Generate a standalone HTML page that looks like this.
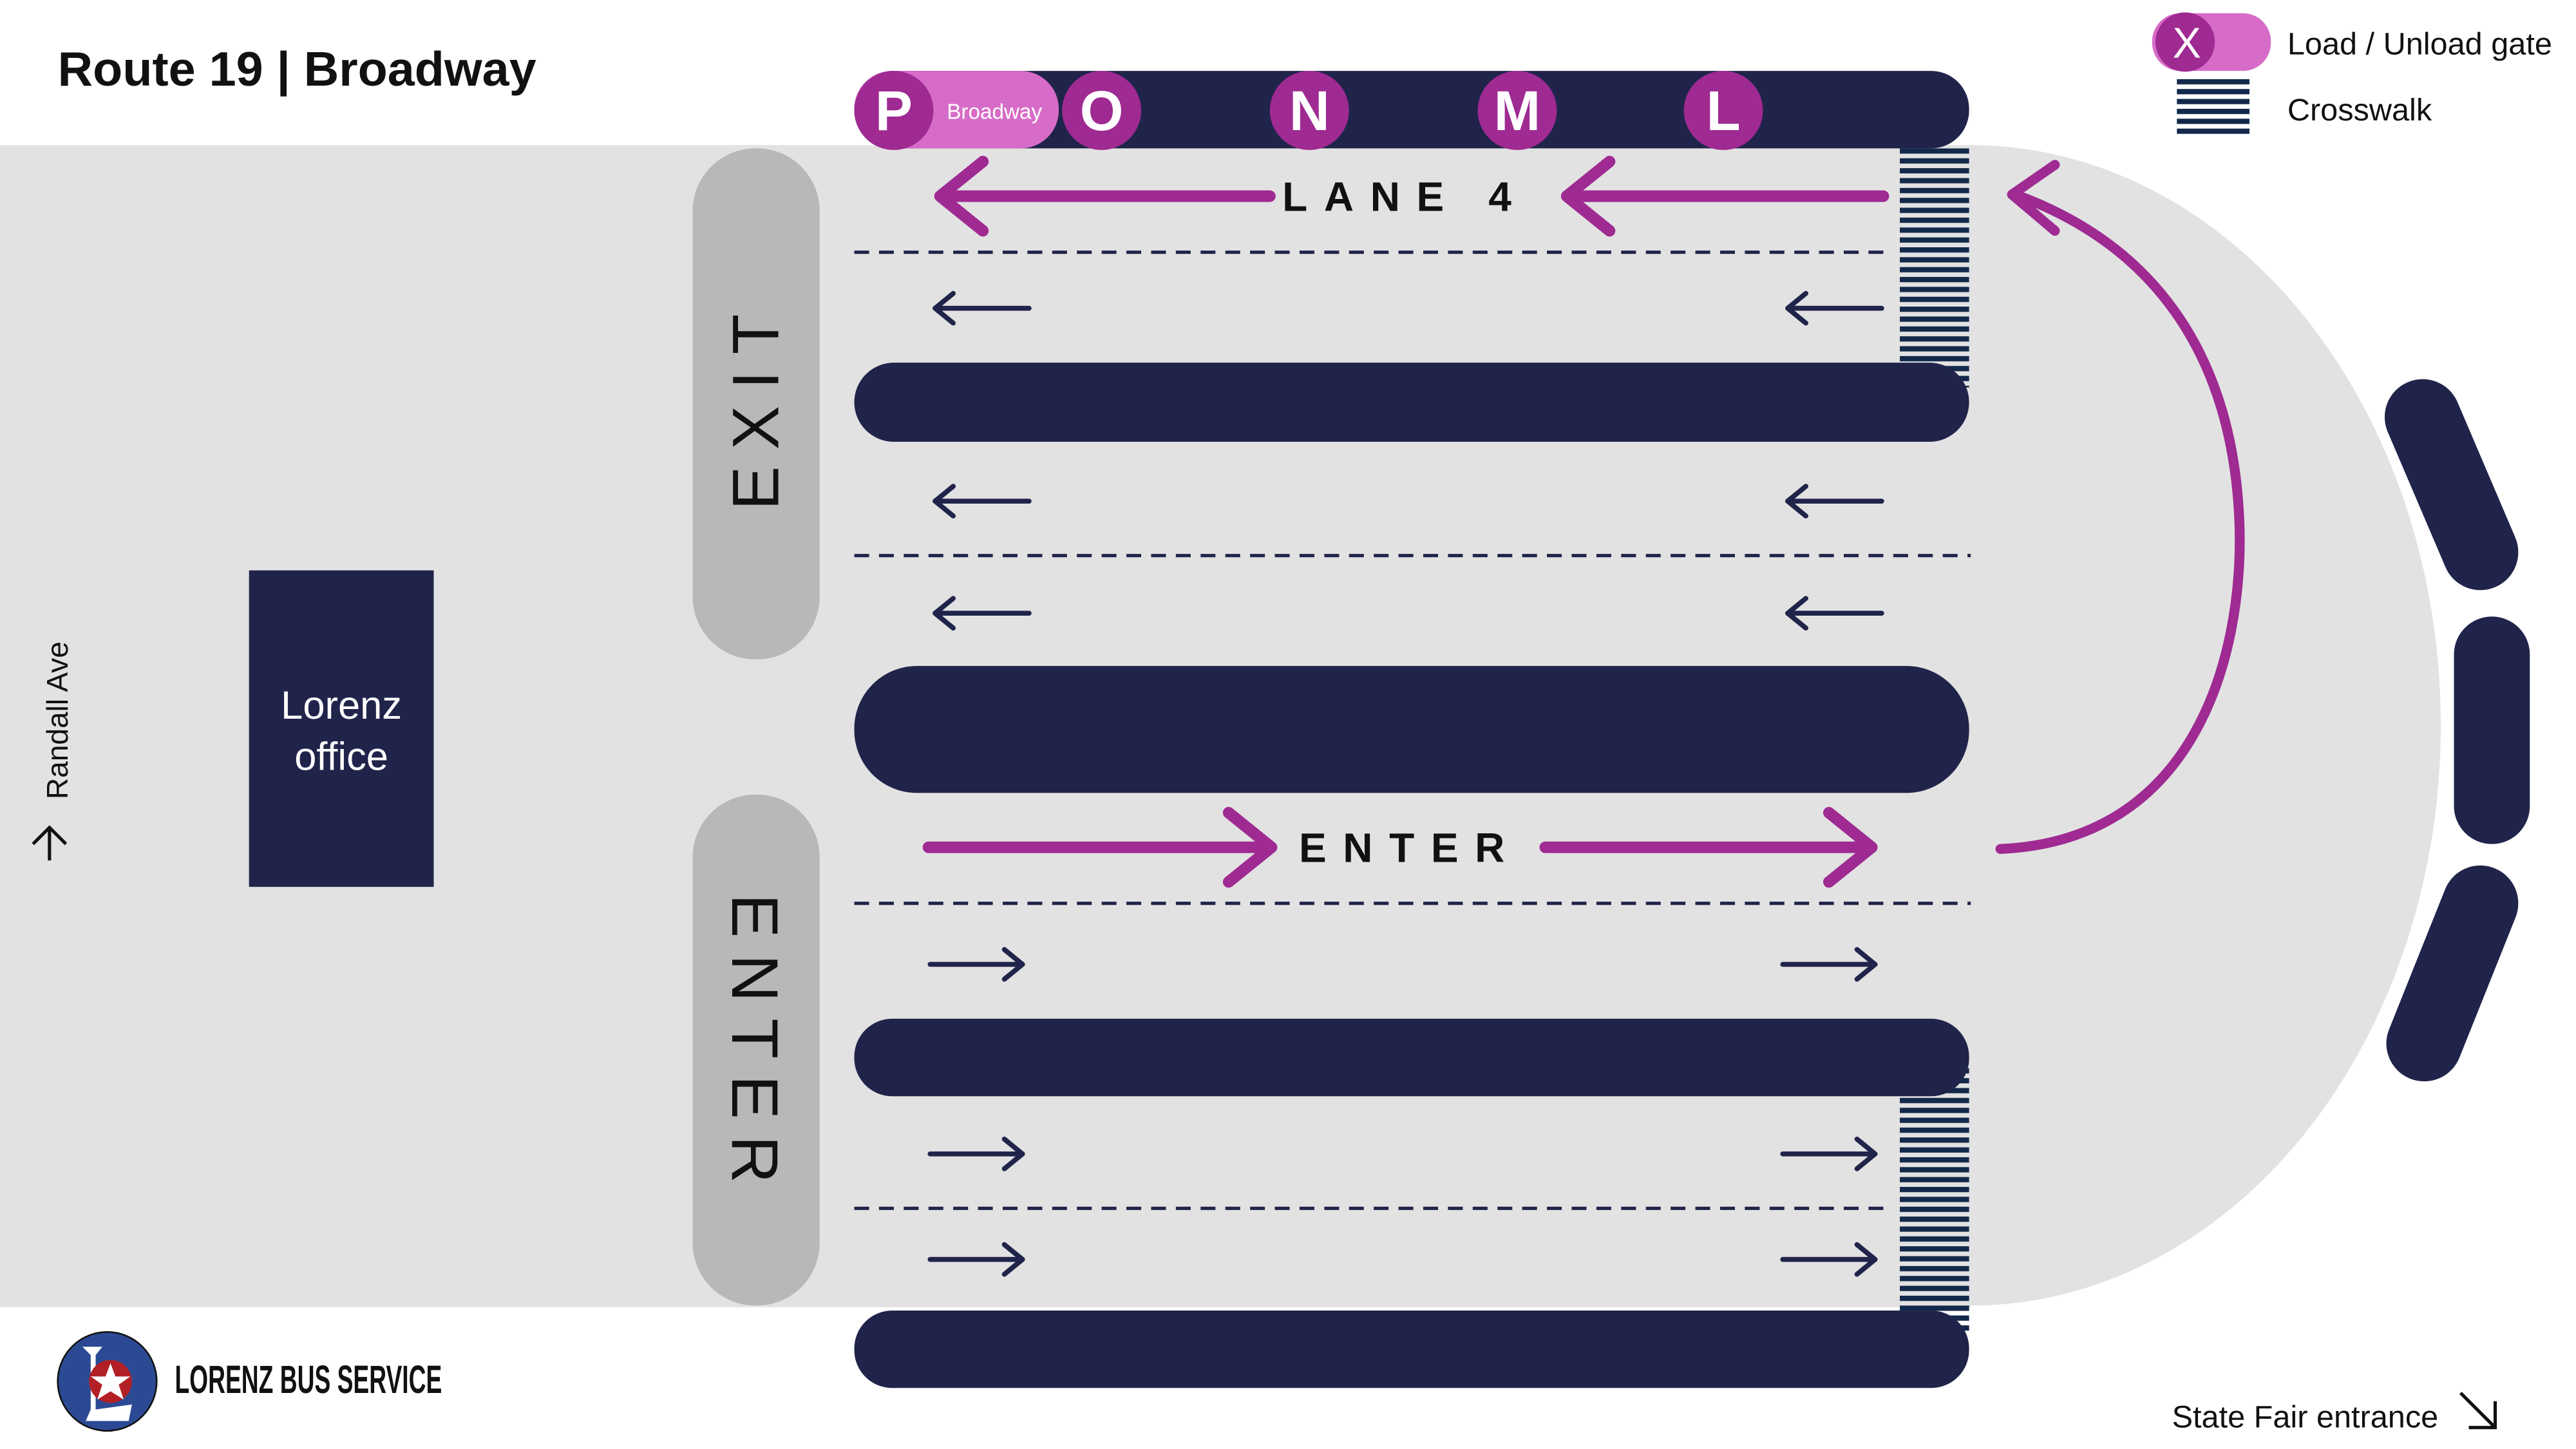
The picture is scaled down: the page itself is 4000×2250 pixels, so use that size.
<!DOCTYPE html>
<html><head><meta charset="utf-8"><style>
html,body{margin:0;padding:0;background:#fff;}
svg{display:block;}
text{font-family:"Liberation Sans",sans-serif;}
</style></head><body>
<svg width="4000" height="2250" viewBox="0 0 1562 879" preserveAspectRatio="none" xmlns="http://www.w3.org/2000/svg">
<defs>
<pattern id="cw" width="10" height="6" patternUnits="userSpaceOnUse"><rect width="10" height="3.2" fill="#13294b"/></pattern>
<g id="la"><line x1="567" y1="0" x2="624" y2="0"/><polyline points="578,-9 567,0 578,9"/></g>
<g id="ra"><line x1="564" y1="0" x2="620" y2="0"/><polyline points="609,-9 620,0 609,9"/></g>
</defs>
<rect width="1562" height="879" fill="#fff"/>
<!-- ground -->
<ellipse cx="1195" cy="440" rx="285" ry="352" fill="#e2e2e2"/>
<rect x="0" y="88" width="1195" height="705" fill="#e2e2e2"/>
<text x="35" y="52" font-size="29.5" font-weight="bold" fill="#111">Route 19 | Broadway</text>

<!-- crosswalks -->
<rect x="1152" y="90" width="42" height="145" fill="url(#cw)"/>
<rect x="1152" y="645" width="42" height="165" fill="url(#cw)"/>

<!-- bars -->
<g fill="#20244a">
<rect x="518" y="43" width="676" height="47" rx="23"/>
<rect x="518" y="220" width="676" height="48" rx="24"/>
<rect x="518" y="404" width="676" height="77" rx="38"/>
<rect x="518" y="618" width="676" height="47" rx="23"/>
<rect x="518" y="795" width="676" height="47" rx="23"/>
</g>
<!-- gates -->
<rect x="518" y="43" width="124" height="47" rx="23" fill="#d76cc8"/>
<g fill="#9e2a92">
<circle cx="542" cy="67" r="24"/><circle cx="668" cy="67" r="24"/><circle cx="794" cy="67" r="24"/><circle cx="920" cy="67" r="24"/><circle cx="1045" cy="67" r="24"/>
</g>
<g fill="#fff" font-weight="bold" font-size="34" text-anchor="middle">
<text x="542" y="79">P</text><text x="668" y="79">O</text><text x="794" y="79">N</text><text x="920" y="79">M</text><text x="1045" y="79">L</text>
</g>
<text x="603" y="72" font-size="13" fill="#fff" text-anchor="middle">Broadway</text>

<!-- dashed lines -->
<g stroke="#20244a" stroke-width="2" stroke-dasharray="9,6">
<line x1="518" y1="153" x2="1145" y2="153"/>
<line x1="518" y1="337" x2="1195" y2="337"/>
<line x1="518" y1="548" x2="1195" y2="548"/>
<line x1="518" y1="733" x2="1145" y2="733"/>
</g>

<!-- purple arrows -->
<g stroke="#9e2a92" stroke-width="7" fill="none" stroke-linecap="round" stroke-linejoin="round">
<line x1="572" y1="119" x2="770" y2="119"/><polyline points="596,98 570,119 596,140"/>
<line x1="952" y1="119" x2="1142" y2="119"/><polyline points="976,98 950,119 976,140"/>
<line x1="563" y1="514" x2="770" y2="514"/><polyline points="745,493 771,514 745,535"/>
<line x1="937" y1="514" x2="1134" y2="514"/><polyline points="1109,493 1135,514 1109,535"/>
<path d="M1213,515 C1330,510 1360,400 1358,320 C1355,220 1310,150 1222,118" stroke-width="6"/>
<polyline points="1246,100 1220,118 1246,140" stroke-width="6"/>
</g>
<text x="852" y="128" font-size="25" font-weight="bold" fill="#111" text-anchor="middle" letter-spacing="10">LANE 4</text>
<text x="855" y="523" font-size="25" font-weight="bold" fill="#111" text-anchor="middle" letter-spacing="10">ENTER</text>

<!-- small arrows -->
<g stroke="#20244a" stroke-width="3" fill="none" stroke-linecap="round" stroke-linejoin="round">
<use href="#la" y="187"/><use href="#la" y="304"/><use href="#la" y="372"/>
<use href="#la" x="517" y="187"/><use href="#la" x="517" y="304"/><use href="#la" x="517" y="372"/>
<use href="#ra" y="585"/><use href="#ra" y="700"/><use href="#ra" y="764"/>
<use href="#ra" x="517" y="585"/><use href="#ra" x="517" y="700"/><use href="#ra" x="517" y="764"/>
</g>

<!-- exit/enter pills -->
<rect x="420" y="90" width="77" height="310" rx="38" fill="#b8b8ba"/>
<rect x="420" y="482" width="77" height="310" rx="38" fill="#b8b8ba"/>
<text transform="translate(472,245) rotate(-90)" font-size="40" fill="#111" text-anchor="middle" letter-spacing="10">EXIT</text>
<text transform="translate(444,635) rotate(90)" font-size="40" fill="#111" text-anchor="middle" letter-spacing="10">ENTER</text>

<!-- office -->
<rect x="151" y="346" width="112" height="192" fill="#20244a"/>
<text x="207" y="436" font-size="24" fill="#fff" text-anchor="middle">Lorenz</text>
<text x="207" y="467" font-size="24" fill="#fff" text-anchor="middle">office</text>

<!-- randall -->
<text transform="translate(41,437) rotate(-90)" font-size="18" fill="#111" text-anchor="middle">Randall Ave</text>
<g stroke="#111" stroke-width="2" fill="none"><line x1="30" y1="502" x2="30" y2="522"/><polyline points="20,512 30,502 40,512"/></g>

<!-- right capsules -->
<g stroke="#20244a" stroke-width="46" stroke-linecap="round">
<line x1="1469" y1="253" x2="1504" y2="335"/>
<line x1="1511" y1="397" x2="1511" y2="489"/>
<line x1="1504" y1="548" x2="1470" y2="633"/>
</g>

<!-- legend -->
<rect x="1305" y="8" width="72" height="35" rx="17" fill="#d76cc8"/>
<circle cx="1325" cy="25.5" r="18" fill="#9e2a92"/>
<text x="1326" y="35" font-size="26" fill="#fff" text-anchor="middle">X</text>
<text x="1387" y="33" font-size="19" fill="#111">Load / Unload gate</text>
<rect x="1320" y="48" width="44" height="34" fill="url(#cw)"/>
<text x="1387" y="73" font-size="19" fill="#111">Crosswalk</text>

<text x="1317" y="866" font-size="19" fill="#111">State Fair entrance</text>
<g stroke="#111" stroke-width="2" fill="none"><line x1="1492" y1="845" x2="1513" y2="866"/><polyline points="1513,850 1513,866 1497,866"/></g>

<!-- logo -->
<ellipse cx="65" cy="838" rx="30" ry="30" fill="#2c4a94" stroke="#111" stroke-width="1"/>
<path d="M50,817 L62,817 L58,822 L58,855 L80,852 L78,862 L52,862 L55,855 L55,822 Z" fill="#fff"/>
<circle cx="67" cy="838" r="13" fill="#b22026"/>
<polygon points="67,827 70,835 79,835 72,840 75,849 67,844 59,849 62,840 55,835 64,835" fill="#fff"/>
<text x="106" y="845" font-size="24" font-weight="bold" fill="#111" textLength="162" lengthAdjust="spacingAndGlyphs">LORENZ BUS SERVICE</text>
</svg>
</body></html>
